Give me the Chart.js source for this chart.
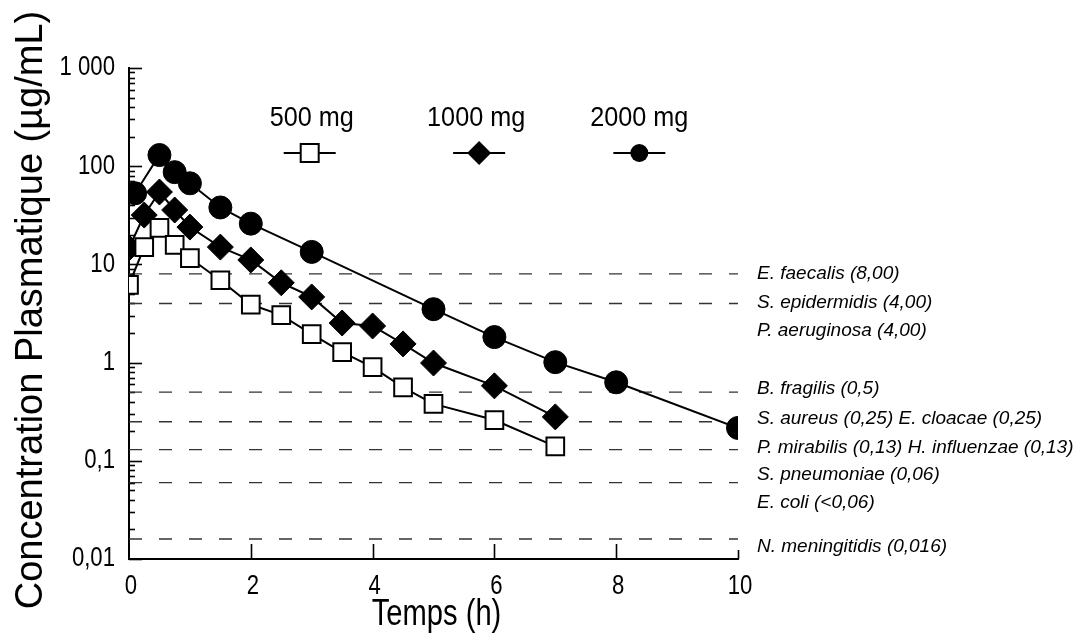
<!DOCTYPE html>
<html>
<head>
<meta charset="utf-8">
<script src="https://cdn.jsdelivr.net/npm/chart.js@4"></script>
<style>
  body { margin:0; background:#fff; }
  canvas { display:block; }
</style>
</head>
<body>
<canvas id="grafico" width="1082" height="639"></canvas>
<script>
// temps (h) et concentrations (µg/mL)
const temps500 = [0, 0.25, 0.5, 0.75, 1, 1.5, 2, 2.5, 3, 3.5, 4, 4.5, 5, 6, 7];
const conc500 = [6.2, 15.0, 23.5, 15.8, 11.6, 6.9, 3.9, 3.05, 1.95, 1.28, 0.90, 0.56, 0.38, 0.26, 0.14];
const temps1000 = [0, 0.25, 0.5, 0.75, 1, 1.5, 2, 2.5, 3, 3.5, 4, 4.5, 5, 6, 7];
const conc1000 = [14.7, 31.8, 54.6, 35.8, 24.0, 15.0, 11.1, 6.5, 4.66, 2.53, 2.36, 1.55, 0.99, 0.58, 0.28];
const temps2000 = [0.1, 0.5, 0.75, 1, 1.5, 2, 3, 5, 6, 7, 8, 10];
const conc2000 = [53, 130, 87, 67, 38, 26, 13.4, 3.5, 1.82, 1.01, 0.63, 0.216];

const doses = ['500 mg', '1000 mg', '2000 mg'];

// CMI (lignes pointillées) et libellés
const cmiValeurs = [8, 4, 0.5, 0.25, 0.13, 0.06, 0.016];
const cmiLibelles = [
    ['E. faecalis (8,00)'],
    ['S. epidermidis (4,00)', 'P. aeruginosa (4,00)'],
    ['B. fragilis (0,5)'],
    ['S. aureus (0,25) E. cloacae (0,25)'],
    ['P. mirabilis (0,13) H. influenzae (0,13)'],
    ['S. pneumoniae (0,06)', 'E. coli (<0,06)'],
    ['N. meningitidis (0,016)']
];

const xTicks = [0, 2, 4, 6, 8, 10];
const yTickValeurs = [0.01, 0.1, 1, 10, 100, 1000];
const yTickLibelles = ['0,01', '0,1', '1', '10', '100', '1 000'];

const SANS = "'Liberation Sans', Arial, sans-serif";

const pts = (xs, ys) => xs.map((t, i) => ({x: t, y: ys[i]}));

const estDecade = v => Math.abs(Math.log10(v) - Math.round(Math.log10(v))) < 1e-6;

// texte condensé (police étroite du document original)
function texteEtroit(ctx, txt, x, y, align, sx){
    ctx.save();
    ctx.translate(x, y);
    ctx.scale(sx, 1);
    ctx.textAlign = align;
    ctx.fillText(txt, 0, 0);
    ctx.restore();
}

// décalages verticaux des libellés CMI (px)
const decalLibelles = [[0], [-1, 27], [-3], [-3], [-2], [-8, 20], [8]];

const decor = {
    id: 'decor',
    beforeDatasetsDraw(chart){
        const {ctx, chartArea: a, scales: {x, y}} = chart;
        ctx.save();
        ctx.strokeStyle = '#000';
        ctx.lineWidth = 1.6;
        y.ticks.forEach(t=>{
            const py = Math.round(y.getPixelForValue(t.value)) + 0.5;
            ctx.beginPath();
            ctx.moveTo(a.left, py);
            ctx.lineTo(a.left + (estDecade(t.value) ? 13 : 6), py);
            ctx.stroke();
        });
        x.ticks.forEach(t=>{
            if(t.value === 0) return;
            const px = Math.round(x.getPixelForValue(t.value)) + 0.5;
            ctx.beginPath();
            ctx.moveTo(px, a.bottom);
            ctx.lineTo(px, a.bottom - (t.value === 10 ? 9 : 15));
            ctx.stroke();
        });

        // libellés des graduations
        ctx.fillStyle = '#000';
        ctx.font = '27px ' + SANS;
        ctx.textBaseline = 'middle';
        yTickValeurs.forEach((v, i)=>{
            texteEtroit(ctx, yTickLibelles[i], a.left - 14, y.getPixelForValue(v), 'right', 0.82);
        });
        xTicks.forEach(v=>{
            texteEtroit(ctx, String(v), x.getPixelForValue(v) + 2, a.bottom + 28, 'center', 0.82);
        });
        ctx.restore();
    },
    afterDraw(chart){
        const {ctx, chartArea: a, scales: {x, y}} = chart;
        ctx.save();
        ctx.fillStyle = '#000';

        // libellés CMI
        ctx.font = 'italic 19px ' + SANS;
        ctx.textAlign = 'left';
        ctx.textBaseline = 'middle';
        cmiValeurs.forEach((v, i)=>{
            const py = y.getPixelForValue(v);
            cmiLibelles[i].forEach((txt, j)=>{
                ctx.fillText(txt, a.right + 19, py + decalLibelles[i][j]);
            });
        });

        // légende
        const legX = [x.getPixelForValue(3), x.getPixelForValue(5.7), x.getPixelForValue(8.38)];
        const symDx = [-2, 3, 0];
        ctx.font = '28px ' + SANS;
        doses.forEach((d, i)=>{
            ctx.fillStyle = '#000';
            texteEtroit(ctx, d, legX[i], a.top + 50, 'center', 0.9);
            const cx = legX[i] + symDx[i], cy = a.top + 85;
            ctx.lineWidth = 2;
            ctx.strokeStyle = '#000';
            ctx.beginPath();
            ctx.moveTo(cx - 26, cy); ctx.lineTo(cx + 26, cy);
            ctx.stroke();
            ctx.beginPath();
            if(i === 0){
                ctx.fillStyle = '#fff';
                ctx.rect(cx - 9, cy - 9, 18, 18);
                ctx.fill(); ctx.stroke();
            } else if(i === 1){
                ctx.fillStyle = '#000';
                ctx.moveTo(cx - 12, cy); ctx.lineTo(cx, cy - 12);
                ctx.lineTo(cx + 12, cy); ctx.lineTo(cx, cy + 12);
                ctx.closePath(); ctx.fill();
            } else {
                ctx.fillStyle = '#000';
                ctx.arc(cx, cy, 9, 0, Math.PI * 2);
                ctx.fill();
            }
        });
        ctx.fillStyle = '#000';

        // titres des axes
        ctx.font = '36px ' + SANS;
        ctx.textBaseline = 'alphabetic';
        texteEtroit(ctx, 'Temps (h)', (a.left + a.right) / 2 + 3, 625, 'center', 0.81);

        ctx.translate(42, 310);
        ctx.rotate(-Math.PI / 2);
        ctx.textAlign = 'center';
        ctx.font = '38px ' + SANS;
        ctx.fillText('Concentration Plasmatique (µg/mL)', 0, 0);
        ctx.restore();
    }
};

const datasets = [
    { label: doses[0], data: pts(temps500, conc500), borderColor:'#000', borderWidth:2,
      pointStyle:'rect', pointRadius:12.5, pointBackgroundColor:'#fff', pointBorderColor:'#000', pointBorderWidth:2 },
    { label: doses[1], data: pts(temps1000, conc1000), borderColor:'#000', borderWidth:2,
      pointStyle:'rectRot', pointRadius:13, pointBackgroundColor:'#000', pointBorderColor:'#000', pointBorderWidth:1 },
    { label: doses[2], data: pts(temps2000, conc2000), borderColor:'#000', borderWidth:2,
      pointStyle:'circle', pointRadius:11.5, pointBackgroundColor:'#000', pointBorderColor:'#000', pointBorderWidth:1 }
];
cmiValeurs.forEach(v=>{
    datasets.push({ label:'cmi', data:[{x:0, y:v}, {x:10, y:v}], borderColor:'#333', borderWidth:1.4,
        borderDash:[13, 17], pointRadius:0 });
});

new Chart(document.getElementById('grafico').getContext('2d'), {
    type: 'line',
    data: { datasets: datasets },
    options: {
        responsive: false,
        animation: false,
        layout: { padding: { top: 68, right: 344, left: 0, bottom: 0 } },
        plugins: { legend: {display:false}, tooltip: {enabled:false} },
        scales: {
            x: {
                type: 'linear', min: 0, max: 10,
                afterFit: s => { s.height = 80; },
                afterBuildTicks: s => { s.ticks = xTicks.map(v => ({value: v})); },
                ticks: { display:false },
                grid: { display:false, drawTicks:false, tickLength:0 },
                border: { display:true, color:'#000', width:2 }
            },
            y: {
                type: 'logarithmic', min: 0.01, max: 1000,
                afterFit: s => { s.width = 129; },
                afterBuildTicks: s => {
                    const t = [];
                    yTickValeurs.forEach((v, i)=>{
                        t.push({value: v});
                        if(i < yTickValeurs.length - 1)
                            for(let k = 2; k <= 9; k++) t.push({value: v * k});
                    });
                    s.ticks = t;
                },
                ticks: { display:false },
                grid: { display:false, drawTicks:false, tickLength:0 },
                border: { display:true, color:'#000', width:2 }
            }
        }
    },
    plugins: [decor]
});
</script>
</body>
</html>
